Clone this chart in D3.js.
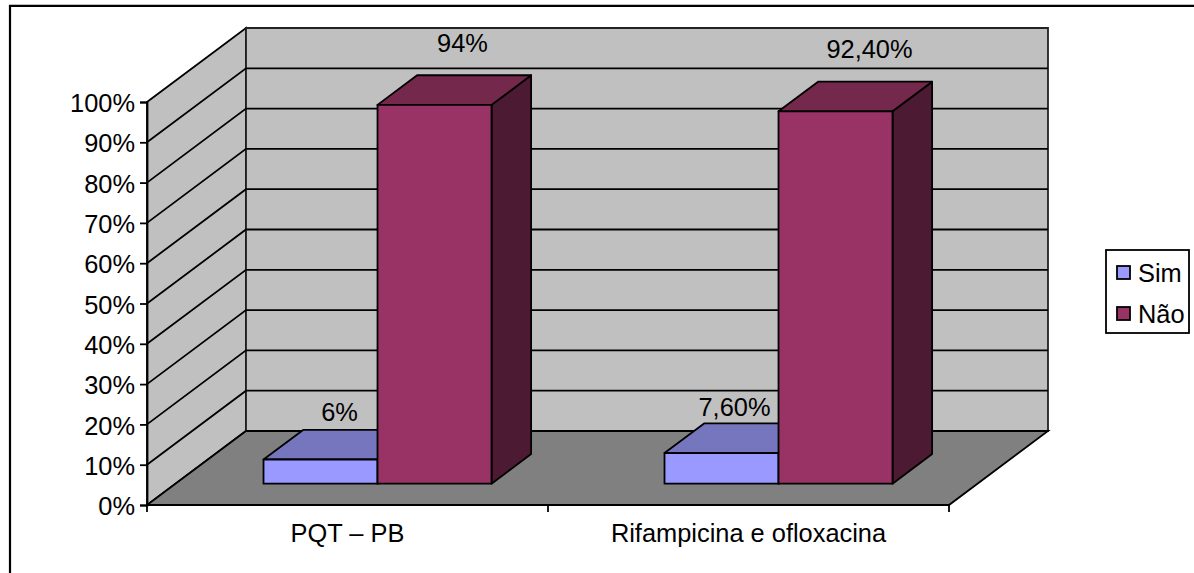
<!DOCTYPE html>
<html>
<head>
<meta charset="utf-8">
<script src="https://cdn.jsdelivr.net/npm/d3@7"></script>
<style>
  html, body { margin: 0; padding: 0; background: #fff; }
  svg { display: block; }
  text { font-family: "Liberation Sans", Arial, sans-serif; fill: #000; }
</style>
</head>
<body>
<svg id="chart" width="1194" height="573"></svg>
<script>
const categories = ["PQT – PB", "Rifampicina e ofloxacina"];
const seriesNames = ["Sim", "Não"];
const simValues = [6, 7.6];
const naoValues = [94, 92.4];
const simLabels = ["6%", "7,60%"];
const naoLabels = ["94%", "92,40%"];
const yTicks = [0, 10, 20, 30, 40, 50, 60, 70, 80, 90, 100];

const colors = {
  Sim: { front: "#9999ff", top: "#7676be", side: "#5c5c99" },
  "Não": { front: "#993366", top: "#74284c", side: "#4d1a33" }
};

const svg = d3.select("#chart");
const fontSize = 25.4;
const lw = 1.8;

const y = d3.scaleLinear().domain([0, 100]).range([505, 102]);
const x = d3.scaleBand().domain(categories).range([147, 949]);
const inner = d3.scaleBand().domain(seriesNames).range([1.5, 229.5]);
// oblique projection of the depth axis
const depthX = d3.scaleLinear().domain([0, 1]).range([0, 99]);
const depthY = d3.scaleLinear().domain([0, 1]).range([0, -74]);
const barFront = 0.288, barBack = 0.688;

// data labels are placed by hand in the original, so nudge per series
const labelDx = { Sim: [19, 13], "Não": [0, 6] };
const labelDy = { Sim: [-9, -7], "Não": [-23, -24] };

const pt = (px, val, d) => [px + depthX(d), y(val) + depthY(d)];
const line = d3.line();
const poly = pts => line(pts) + "Z";

// outer frame
svg.append("path")
  .attr("d", line([[10, 573], [10, 5.8], [1194, 5.8]]))
  .attr("fill", "none").attr("stroke", "#000").attr("stroke-width", 2.2);

// walls and floor
const x0 = x.range()[0], x1 = x.range()[1];
svg.append("path")
  .attr("d", poly([pt(x0, 0, 0), pt(x0, 0, 1), pt(x0, 100, 1), pt(x0, 100, 0)]))
  .attr("fill", "#c0c0c0").attr("stroke", "#000").attr("stroke-width", lw);
svg.append("path")
  .attr("d", poly([pt(x0, 0, 1), pt(x1, 0, 1), pt(x1, 100, 1), pt(x0, 100, 1)]))
  .attr("fill", "#c0c0c0").attr("stroke", "#222").attr("stroke-width", lw);
svg.append("path")
  .attr("d", poly([pt(x0, 0, 0), pt(x1, 0, 0), pt(x1, 0, 1), pt(x0, 0, 1)]))
  .attr("fill", "#808080").attr("stroke", "#000").attr("stroke-width", lw);

// gridlines across both walls
svg.append("g").selectAll("path")
  .data(yTicks.slice(1, -1))
  .join("path")
    .attr("d", d => line([pt(x0, d, 0), pt(x0, d, 1), pt(x1, d, 1)]))
    .attr("fill", "none").attr("stroke", "#000").attr("stroke-width", lw);

// y axis
const yAxis = d3.axisLeft(y).tickValues(yTicks).tickFormat(d => d + "%").tickSize(7).tickPadding(5);
const yG = svg.append("g").attr("transform", `translate(${x0},0)`).call(yAxis);
yG.select(".domain").attr("stroke", "#000").attr("stroke-width", lw);
yG.selectAll("line").attr("stroke", "#000").attr("stroke-width", lw);
yG.selectAll("text").attr("font-size", fontSize).attr("font-family", null).attr("y", 1.5);

// x axis, ticks sit on category boundaries
const xEdges = [x0, x(categories[1]), x1];
svg.append("g").selectAll("line")
  .data(xEdges)
  .join("line")
    .attr("x1", d => d).attr("x2", d => d)
    .attr("y1", y(0)).attr("y2", y(0) + 7)
    .attr("stroke", "#000").attr("stroke-width", lw);
svg.append("g").selectAll("text")
  .data(categories)
  .join("text")
    .attr("x", d => x(d) + x.bandwidth() / 2)
    .attr("y", 542)
    .attr("text-anchor", "middle")
    .attr("font-size", fontSize)
    .text(d => d);

// bars: Sim first so Não covers its side
const bars = [];
seriesNames.forEach((s, si) => {
  const vals = si === 0 ? simValues : naoValues;
  const labs = si === 0 ? simLabels : naoLabels;
  categories.forEach((c, ci) => {
    bars.push({ series: s, cat: c, ci: ci, value: vals[ci], label: labs[ci] });
  });
});

function barLeft(d) {
  return x(d.cat) + x.bandwidth() / 2 - inner.bandwidth() + inner(d.series);
}

const barG = svg.append("g").selectAll("g")
  .data(bars)
  .join("g")
    .attr("stroke", "#000").attr("stroke-width", lw).attr("stroke-linejoin", "round");

barG.append("path")
  .attr("fill", d => colors[d.series].side)
  .attr("d", d => {
    const r = barLeft(d) + inner.bandwidth();
    return poly([pt(r, 0, barFront), pt(r, 0, barBack), pt(r, d.value, barBack), pt(r, d.value, barFront)]);
  });
barG.append("path")
  .attr("fill", d => colors[d.series].top)
  .attr("d", d => {
    const l = barLeft(d), r = l + inner.bandwidth();
    return poly([pt(l, d.value, barFront), pt(r, d.value, barFront), pt(r, d.value, barBack), pt(l, d.value, barBack)]);
  });
barG.append("path")
  .attr("fill", d => colors[d.series].front)
  .attr("d", d => {
    const l = barLeft(d), r = l + inner.bandwidth();
    return poly([pt(l, 0, barFront), pt(r, 0, barFront), pt(r, d.value, barFront), pt(l, d.value, barFront)]);
  });

// data labels, above the back of each bar
svg.append("g").selectAll("text")
  .data(bars)
  .join("text")
    .attr("x", d => barLeft(d) + inner.bandwidth() / 2 + depthX(barFront) + labelDx[d.series][d.ci] + (d.series === "Não" ? 28 : 0))
    .attr("y", d => pt(0, d.value, barBack)[1] + labelDy[d.series][d.ci])
    .attr("text-anchor", "middle")
    .attr("font-size", fontSize)
    .text(d => d.label);

// legend
const legend = svg.append("g");
legend.append("rect")
  .attr("x", 1106).attr("y", 250).attr("width", 83).attr("height", 83)
  .attr("fill", "#fff").attr("stroke", "#000").attr("stroke-width", lw);
const legendY = d3.scalePoint().domain(seriesNames).range([273, 314]);
const item = legend.selectAll("g")
  .data(seriesNames)
  .join("g")
    .attr("transform", d => `translate(0,${legendY(d)})`);
item.append("rect")
  .attr("x", 1117).attr("y", -7).attr("width", 13).attr("height", 13)
  .attr("fill", d => colors[d].front).attr("stroke", "#000").attr("stroke-width", lw);
item.append("text")
  .attr("x", 1138).attr("y", 9)
  .attr("font-size", fontSize)
  .text(d => d);
</script>
</body>
</html>
